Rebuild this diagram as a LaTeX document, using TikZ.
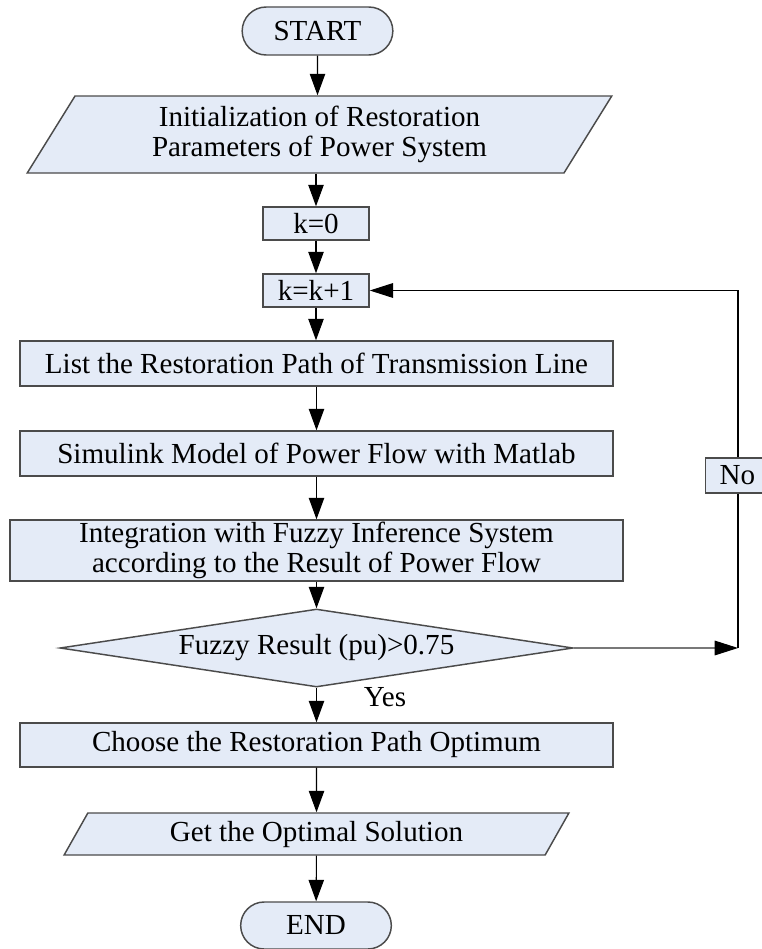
\documentclass[tikz,border=0pt]{standalone}
\usepackage{fontspec}
\setmainfont{Liberation Serif}
\usetikzlibrary{shapes.geometric,shapes.misc,arrows.meta}
\definecolor{boxfill}{RGB}{228,235,247}
\definecolor{boxline}{RGB}{75,75,75}
\definecolor{grayline}{RGB}{120,120,120}
\begin{document}
\begin{tikzpicture}[x=0.75pt,y=-0.75pt,
  every node/.style={font=\fontsize{21.8}{22.5}\selectfont, align=center, inner sep=0pt},
  base/.style={draw=boxline, line width=1.1pt, fill=boxfill},
  term/.style={base, rounded rectangle, minimum width=113pt, minimum height=36pt},
  proc/.style={base, rectangle},
  io/.style={base, trapezium, trapezium left angle=60, trapezium right angle=120, trapezium stretches=true},
  decision/.style={base, diamond, aspect=6.58, minimum width=384.75pt, minimum height=58.5pt},
  conn/.style={line width=0.8pt, draw=black, -{Triangle[length=16pt,width=11.5pt,color=black]}},
  longtip/.style={-{Triangle[length=17.5pt,width=11pt,color=black]}},
]
\path[use as bounding box] (0,0) rectangle (762,949);
\clip (0,0) rectangle (762,949);

\node[term] (start) at (317.5,31) {START};
\node[io, minimum width=438.75pt, minimum height=57.75pt] (init) at (319.5,134.5)
  {Initialization of Restoration\\Parameters of Power System};
\node[proc, minimum width=79.5pt, minimum height=24.75pt] (k0) at (316,223.5) {k=0};
\node[proc, minimum width=79.5pt, minimum height=24.75pt] (kk) at (316,290.5) {k=k+1};
\node[proc, minimum width=444.75pt, minimum height=33.75pt] (list) at (316.5,363.5)
  {List the Restoration Path of Transmission Line};
\node[proc, minimum width=444.75pt, minimum height=33.75pt] (sim) at (316.5,453.5)
  {Simulink Model of Power Flow with Matlab};
\node[proc, minimum width=459.75pt, minimum height=45.75pt] (integ) at (316.5,550.5)
  {Integration with Fuzzy Inference System\\according to the Result of Power Flow};
\node[decision] (dec) at (316.5,648) {Fuzzy Result (pu)>0.75};
\node (yes) at (385,697) {Yes};
\node[proc, minimum width=444.75pt, minimum height=33pt] (choose) at (316.5,745)
  {Choose the Restoration Path Optimum};
\node[io, minimum width=378.75pt, minimum height=31.5pt] (get) at (316.5,834)
  {Get the Optimal Solution};
\node[term, minimum height=35.25pt] (end) at (316,925.5) {END};
\coordinate (corner) at (738,648);

\draw[conn] (start) -- (start |- init.north);
\draw[conn] (k0 |- init.south) -- (k0);
\draw[conn] (k0) -- (kk);
\draw[conn] (kk) -- (kk |- list.north);
\draw[conn] (list) -- (sim);
\draw[conn] (sim) -- (integ);
\draw[conn] (integ) -- (dec);
\draw[conn] (dec) -- (choose);
\draw[conn] (choose) -- (get);
\draw[conn] (get) -- (end);
\draw[conn, draw=grayline, longtip] (dec.east) -- (corner);
\draw[conn, longtip] (corner) -- (corner |- kk) -- (kk.east);

\node[proc, minimum width=64pt, minimum height=26.25pt] (no) at (748,475.5) {\hspace*{-16pt}No};
\end{tikzpicture}
\end{document}
